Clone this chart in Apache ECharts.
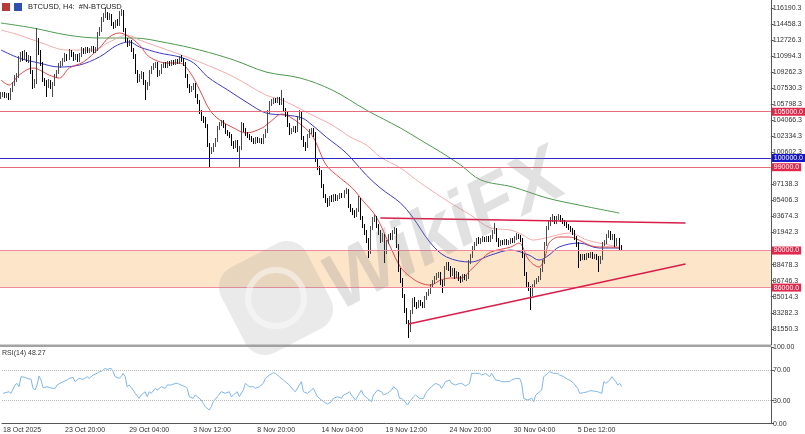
<!DOCTYPE html>
<html>
<head>
<meta charset="utf-8">
<script src="https://cdn.jsdelivr.net/npm/echarts@6/dist/echarts.min.js"></script>
<style>
html, body { margin: 0; padding: 0; background: #fff; }
#chart { width: 805px; height: 434px; }
</style>
</head>
<body>
<div id="chart"></div>
<script>
// H4 bars, first visible bar 18 Oct 2025 16:00
const barCount = 384
const startTime = Date.UTC(2025, 9, 18, 16)
const monthNames = ['Jan', 'Feb', 'Mar', 'Apr', 'May', 'Jun', 'Jul', 'Aug', 'Sep', 'Oct', 'Nov', 'Dec']
const categories = []
for (let i = 0; i < barCount; i++) {
  const d = new Date(startTime + i * 4 * 3600 * 1000)
  const hh = String(d.getUTCHours()).padStart(2, '0')
  categories.push(d.getUTCDate() + ' ' + monthNames[d.getUTCMonth()] + ' ' + hh + ':00')
}

const xTickBars = [0, 31, 63, 95, 127, 159, 191, 223, 255, 287]
const xTickLabels = ['18 Oct 2025', '23 Oct 20:00', '29 Oct 04:00', '3 Nov 12:00', '8 Nov 20:00',
  '14 Nov 04:00', '19 Nov 12:00', '24 Nov 20:00', '30 Nov 04:00', '5 Dec 12:00']

const priceTicks = [81550.3, 83282.3, 85014.3, 86746.3, 88478.3, 91942.3, 93674.3, 95406.3,
  97138.3, 100602.3, 102334.3, 104066.3, 105798.3, 107530.3, 109262.3, 110994.3, 112726.3,
  114458.3, 116190.3]
const rsiTicks = [0, 30, 70, 100]

// horizontal levels and the 86000-90000 zone
const levelPrices = [105000, 100000, 99000, 90000, 86000]
const zoneRange = [86000, 90000]
// trendlines [barIndex, price]
const trendUpper = [[189, 93510], [341, 92970]]
const trendLower = [[203, 82060], [341, 88540]]

// [open, close, low, high]
const candles = [
  [106690, 106790, 106360, 107120], [106790, 106900, 106580, 107120], [106900, 106690, 106470, 107120],
  [106690, 106790, 106470, 107010], [106790, 106470, 106250, 107010], [106470, 107330, 106250, 107550],
  [107330, 107980, 107120, 108200], [107980, 108630, 107770, 108950], [108630, 108850, 108200, 109170],
  [108850, 110570, 108630, 111010], [110570, 111110, 110360, 111440], [111110, 110790, 110470, 111550],
  [110790, 111220, 110570, 111650], [111220, 110570, 110360, 111440], [110570, 110790, 110250, 111110],
  [110790, 109280, 109060, 111010], [109280, 107770, 107440, 109490], [107770, 108200, 107550, 108520],
  [108200, 112520, 107980, 114030], [112520, 111440, 111110, 112950], [111440, 110140, 109930, 111650],
  [110140, 108410, 108200, 110360], [108410, 108090, 107770, 108630], [108090, 107770, 106580, 108410],
  [107770, 108200, 107550, 108520], [108200, 107770, 107440, 108410], [107770, 107980, 106580, 108200],
  [107980, 108850, 107770, 109060], [108850, 109280, 108630, 109490], [109280, 109930, 109060, 110250],
  [109930, 110140, 109710, 110470], [110140, 110570, 109930, 110790], [110570, 111010, 110360, 111330],
  [111010, 110790, 110470, 111220], [110790, 111440, 110570, 111760], [111440, 111220, 110900, 111650],
  [111220, 110790, 110470, 111440], [110790, 111010, 110570, 111220], [111010, 110570, 110360, 111220],
  [110570, 111110, 110360, 111330], [111110, 111650, 110900, 111980], [111650, 111440, 111220, 111870],
  [111440, 111760, 111220, 111980], [111760, 111550, 111330, 111980], [111550, 111650, 111330, 111870],
  [111650, 111870, 111440, 112090], [111870, 111550, 111330, 112090], [111550, 111760, 111330, 111980],
  [111760, 113380, 111550, 113600], [113380, 113810, 113170, 114140], [113810, 114890, 113600, 115220],
  [114890, 115330, 114680, 115650], [115330, 115540, 115110, 116300], [115540, 115110, 114890, 115760],
  [115110, 115330, 114890, 115650], [115330, 114460, 114250, 115540], [114460, 114250, 113920, 114680],
  [114250, 114680, 114030, 114890], [114680, 114460, 114250, 115000], [114460, 115540, 114250, 115870],
  [115540, 115760, 115330, 116080], [115760, 113810, 113600, 115970], [113810, 112730, 112520, 114030],
  [112730, 112300, 111980, 112950], [112300, 112520, 112090, 112730], [112520, 111650, 111440, 112730],
  [111650, 111010, 110680, 111870], [111010, 109280, 109060, 111220], [109280, 108410, 108090, 109490],
  [108410, 108850, 108200, 109060], [108850, 109060, 108520, 109390], [109060, 108200, 107870, 109280],
  [108200, 107550, 106250, 108410], [107550, 107980, 107330, 108200], [107980, 109280, 107770, 109490],
  [109280, 109710, 109060, 109930], [109710, 109930, 109490, 110250], [109930, 110140, 109710, 110360],
  [110140, 109060, 108740, 110360], [109060, 109280, 108850, 109490], [109280, 109930, 109060, 110140],
  [109930, 110140, 109710, 110360], [110140, 109930, 109710, 110360], [109930, 110250, 109710, 110470],
  [110250, 110140, 109930, 110470], [110140, 110360, 109930, 110570], [110360, 110250, 110030, 110570],
  [110250, 110470, 110030, 110680], [110470, 110360, 110140, 110680], [110360, 110790, 110140, 111010],
  [110790, 110570, 110360, 111110], [110570, 110140, 109930, 110790], [110140, 108850, 108630, 110360],
  [108850, 107770, 107550, 109060], [107770, 107330, 107010, 107980], [107330, 107550, 107120, 107770],
  [107550, 107870, 107330, 108090], [107870, 106690, 106470, 108090], [106690, 106040, 105820, 106900],
  [106040, 104960, 104740, 106250], [104960, 104310, 103990, 105170], [104310, 104090, 103770, 104530],
  [104090, 103450, 103230, 104420], [103450, 101390, 101180, 103660], [101390, 100640, 98910, 101610],
  [100640, 100850, 100420, 101180], [100850, 101390, 100640, 101610], [101390, 101930, 101180, 102150],
  [101930, 103230, 101720, 103450], [103230, 103660, 103010, 103880], [103660, 103880, 103450, 104090],
  [103880, 103450, 103230, 104090], [103450, 102800, 102580, 103660], [102800, 102580, 102370, 103010],
  [102580, 102370, 102150, 102800], [102370, 101500, 101290, 102580], [101500, 101290, 100960, 101830],
  [101290, 101720, 101070, 101930], [101720, 100850, 100640, 101930], [100850, 101070, 99020, 101290],
  [101070, 103550, 100850, 103880], [103550, 103010, 102800, 103770], [103010, 102580, 102370, 103230],
  [102580, 102370, 102150, 102800], [102370, 102150, 101930, 102580], [102150, 101930, 101720, 102370],
  [101930, 101720, 101500, 102150], [101720, 102040, 101500, 102260], [102040, 101830, 101610, 102260],
  [101830, 101930, 101610, 102150], [101930, 101720, 101500, 102150], [101720, 102370, 101500, 102580],
  [102370, 102910, 102150, 103120], [102910, 104960, 102690, 105170], [104960, 105820, 104740, 106150],
  [105820, 106040, 105610, 106360], [106040, 106250, 105820, 106470], [106250, 106150, 105930, 106470],
  [106150, 106360, 105930, 106580], [106360, 105930, 105710, 106580], [105930, 106250, 105710, 107330],
  [106250, 105170, 104960, 106470], [105170, 104740, 104420, 105390], [104740, 103550, 103340, 104960],
  [103550, 102800, 102470, 103770], [102800, 103010, 102580, 103230], [103010, 103230, 102800, 103450],
  [103230, 103010, 102690, 103450], [103010, 104310, 102800, 104530], [104310, 104740, 104090, 105170],
  [104740, 102150, 101930, 104960], [102150, 101500, 101180, 102370], [101500, 101290, 100750, 101720],
  [101290, 102370, 101070, 102580], [102370, 102800, 102150, 103120], [102800, 103010, 102580, 103230],
  [103010, 102580, 102260, 103230], [102580, 99770, 99560, 102800], [99770, 98910, 98690, 99990],
  [98910, 98480, 98150, 99130], [98480, 96970, 96750, 98690], [96970, 95890, 95670, 97180],
  [95890, 95450, 95130, 96100], [95450, 95020, 94700, 95670], [95020, 95670, 94810, 95890],
  [95670, 95450, 95240, 95990], [95450, 95890, 95240, 96100], [95890, 95560, 95350, 96100],
  [95560, 95780, 95350, 95990], [95780, 95990, 95560, 96210], [95990, 95890, 95670, 96210],
  [95890, 96320, 95670, 96530], [96320, 96430, 96100, 96750], [96430, 94810, 94590, 96640],
  [94810, 94370, 94160, 95020], [94370, 94160, 93830, 94590], [94160, 93830, 93510, 94370],
  [93830, 94370, 93620, 94590], [94370, 95450, 94160, 95890], [95450, 93510, 93290, 95670],
  [93510, 92650, 92430, 93730], [92650, 92000, 91670, 92860], [92000, 91130, 90810, 92210],
  [91130, 89840, 89190, 91350], [89840, 92430, 89620, 92650], [92430, 93290, 92210, 93620],
  [93290, 93510, 93080, 93830], [93510, 92650, 92430, 93730], [92650, 92000, 91670, 92860],
  [92000, 91130, 90810, 92210], [91130, 91570, 90920, 91890], [91570, 89840, 88650, 91780],
  [89840, 90920, 89620, 91130], [90920, 91570, 90700, 91780], [91570, 91350, 91130, 91890],
  [91350, 92000, 91130, 92210], [92000, 92210, 91780, 92540], [92210, 90490, 90270, 92430],
  [90490, 87890, 87680, 90700], [87890, 86810, 86490, 88110], [86810, 85090, 84870, 87030],
  [85090, 83570, 83250, 85300], [83570, 82280, 82060, 83790], [82280, 81410, 80550, 82490],
  [81410, 83360, 81200, 83570], [83360, 84650, 83140, 84870], [84650, 84220, 83900, 84980],
  [84220, 84010, 83680, 84440], [84010, 84440, 83790, 84650], [84440, 84220, 84010, 84650],
  [84220, 84010, 83790, 84440], [84010, 84870, 83790, 85090], [84870, 85300, 84650, 85520],
  [85300, 85520, 85090, 85840], [85520, 86170, 85300, 86380], [86170, 86600, 85950, 86810],
  [86600, 87030, 86380, 87250], [87030, 87250, 86810, 87570], [87250, 87460, 87030, 87680],
  [87460, 86600, 86270, 87680], [86600, 86380, 85410, 86810], [86380, 88110, 86170, 88330],
  [88110, 88540, 87890, 88760], [88540, 88110, 87790, 88760], [88110, 87460, 87140, 88330],
  [87460, 87890, 87250, 88110], [87890, 87250, 86920, 88110], [87250, 87460, 87030, 87790],
  [87460, 87030, 86710, 87680], [87030, 86810, 86490, 87250], [86810, 87250, 86600, 87460],
  [87250, 87030, 86810, 87460], [87030, 87140, 86710, 87350], [87140, 88760, 86920, 88970],
  [88760, 89410, 88540, 89620], [89410, 90270, 89190, 90490], [90270, 90700, 90050, 90920],
  [90700, 91130, 90490, 91350], [91130, 90920, 90700, 91460], [90920, 91130, 90700, 91350],
  [91130, 91240, 90920, 91570], [91240, 91130, 90920, 91460], [91130, 91350, 90920, 91570],
  [91350, 91130, 90920, 91570], [91130, 91460, 90920, 91670], [91460, 92000, 91240, 92210],
  [92000, 92210, 91780, 92970], [92210, 91130, 90920, 92430], [91130, 90700, 90380, 91350],
  [90700, 90920, 90490, 91130], [90920, 90810, 90590, 91130], [90810, 91030, 90590, 91240],
  [91030, 90810, 90590, 91240], [90810, 90920, 90590, 91130], [90920, 91130, 90700, 91350],
  [91130, 91030, 90810, 91350], [91030, 91350, 90810, 91570], [91350, 91570, 91130, 91890],
  [91570, 91460, 91240, 91780], [91460, 91130, 90920, 91670], [91130, 89410, 89190, 91350],
  [89410, 87460, 87250, 89620], [87460, 86380, 86060, 87680], [86380, 85950, 85630, 86600],
  [85950, 85300, 83570, 86170], [85300, 86170, 85090, 86380], [86170, 86600, 85950, 86810],
  [86600, 86810, 86380, 87030], [86810, 87030, 86600, 87250], [87030, 87890, 86810, 88110],
  [87890, 88760, 87680, 88970], [88760, 90700, 88540, 90920], [90700, 92430, 90490, 92650],
  [92430, 92860, 92210, 93190], [92860, 93290, 92650, 93620], [93290, 93510, 93080, 93940],
  [93510, 93080, 92860, 93730], [93080, 93510, 92860, 93730], [93510, 93620, 93290, 93940],
  [93620, 93290, 93080, 93830], [93290, 93080, 92860, 93510], [93080, 92860, 92650, 93290],
  [92860, 92650, 92430, 93080], [92650, 92430, 92210, 92860], [92430, 92210, 92000, 92650],
  [92210, 92000, 91670, 92430], [92000, 91350, 91130, 92210], [91350, 90700, 90380, 91570],
  [90700, 89410, 88110, 90920], [89410, 89190, 88870, 89620], [89190, 89410, 88970, 89620],
  [89410, 89190, 88970, 89620], [89190, 89510, 88970, 89730], [89510, 89410, 89190, 89730],
  [89410, 89620, 89190, 89840], [89620, 89300, 89080, 89840], [89300, 89410, 89080, 89620],
  [89410, 89190, 88970, 89620], [89190, 88760, 87680, 89410], [88760, 89190, 88540, 89410],
  [89190, 90700, 88970, 90920], [90700, 90920, 90490, 91130], [90920, 91570, 90700, 91780],
  [91570, 91890, 91350, 92210], [91890, 91350, 91130, 92110], [91350, 91570, 91130, 91780],
  [91570, 90700, 90380, 91780], [90700, 91130, 90490, 91350], [91130, 90380, 90050, 91350],
  [90380, 90270, 90050, 90590]
]

// moving averages, [barIndex, price]
const maGreen = [[0, 114570], [16, 114030], [33, 113270], [49, 112950], [66, 112950], [83, 112410],
  [99, 111650], [116, 110570], [132, 109280], [149, 108630], [165, 107330], [182, 105170],
  [199, 103230], [209, 101930], [219, 100640], [229, 99230], [239, 97620], [255, 96860],
  [272, 95670], [288, 94910], [308, 94050]]
const maPink = [[0, 113810], [9, 113270], [19, 112520], [33, 111650], [46, 111650], [54, 112520],
  [63, 113270], [69, 112730], [83, 111650], [99, 110360], [116, 108740], [132, 106790],
  [140, 106250], [157, 104420], [165, 103550], [174, 102260], [182, 101390], [189, 100100],
  [199, 98910], [209, 97290], [224, 95130], [234, 93830], [244, 92430], [254, 92210],
  [260, 91670], [265, 91130], [273, 91460], [283, 91890], [292, 91130], [298, 90810], [308, 90380]]
const maRed = [[0, 108410], [4, 107870], [9, 108950], [16, 109710], [24, 108950], [29, 108630],
  [34, 109710], [41, 110360], [49, 111870], [54, 113060], [59, 113490], [64, 113060],
  [69, 112190], [74, 110900], [83, 110250], [89, 110250], [94, 109280], [99, 107330],
  [104, 105170], [109, 104090], [116, 103230], [122, 102690], [130, 103230], [134, 103880],
  [140, 104740], [144, 104420], [149, 103660], [154, 102690], [157, 101610], [162, 99230],
  [169, 97830], [175, 96750], [180, 95450], [187, 93620], [194, 90380], [199, 88220],
  [204, 87140], [209, 86490], [214, 86270], [219, 86810], [224, 87030], [229, 87030],
  [234, 87890], [239, 88970], [244, 89840], [254, 90380], [258, 90810], [263, 88970],
  [268, 88220], [271, 89300], [273, 90810], [278, 91460], [283, 91460], [288, 91130],
  [293, 90590], [298, 90380], [303, 90380], [308, 90270]]
const maBlue = [[0, 111650], [9, 110790], [19, 110250], [29, 109820], [39, 110030], [49, 110900],
  [58, 112190], [64, 112520], [69, 111980], [79, 111330], [89, 110900], [96, 110250],
  [103, 108740], [113, 107330], [123, 105930], [132, 104850], [142, 104630], [150, 104310],
  [155, 103550], [162, 102260], [172, 100530], [182, 98150], [189, 96750], [199, 95130],
  [205, 93620], [214, 90810], [222, 89300], [234, 88760], [244, 89510], [254, 90050],
  [263, 89510], [268, 88970], [273, 89510], [278, 90380], [288, 90810], [298, 90270], [308, 90270]]

// RSI(14), [barIndex, value]
const rsi = [[0, 39.6], [3, 41.7], [4, 39.6], [6, 50.4], [7, 52.6], [8, 48.2], [9, 61.3], [11, 60.4],
  [12, 59.1], [14, 57.8], [15, 46], [16, 43.9], [17, 50.4], [18, 62.1], [19, 56.9], [20, 46.9],
  [22, 48.2], [23, 47.4], [25, 46], [26, 46], [27, 50.4], [29, 53.5], [30, 54.8], [32, 56.9],
  [33, 59.1], [35, 60.4], [36, 54.8], [37, 56.9], [38, 59.1], [40, 57.8], [42, 61.3], [43, 59.1],
  [45, 63.4], [47, 65.6], [48, 67.8], [49, 67.8], [51, 72.1], [52, 70.8], [54, 72.1], [55, 67.8],
  [56, 61.3], [58, 59.1], [59, 61.3], [60, 65.6], [61, 61.3], [62, 48.2], [63, 50.4], [65, 43.9],
  [66, 39.6], [68, 33], [69, 37.4], [71, 41.7], [72, 35.2], [73, 41.7], [74, 39.6], [76, 46],
  [77, 43.9], [79, 48.2], [81, 46], [82, 50.4], [84, 50.4], [86, 52.6], [87, 52.6], [89, 50.4],
  [91, 48.2], [92, 46], [93, 35.2], [95, 33], [96, 37.4], [97, 35.2], [99, 30.9], [100, 26.5],
  [101, 22.2], [103, 17.8], [104, 22.2], [105, 28.7], [107, 35.2], [109, 41.7], [111, 39.6],
  [113, 41.7], [114, 35.2], [115, 37.4], [117, 41.7], [118, 35.2], [120, 43.9], [121, 52.6],
  [123, 48.2], [125, 48.2], [126, 46], [128, 48.2], [130, 52.6], [131, 59.1], [133, 63.4],
  [135, 66.5], [136, 65.6], [138, 61.3], [140, 56.9], [141, 54.8], [143, 50.4], [145, 43.9],
  [146, 41.7], [148, 50.4], [149, 54.8], [150, 41.7], [152, 39.6], [154, 43.9], [155, 46],
  [157, 35.2], [159, 30.9], [160, 28.7], [162, 25.7], [164, 28.7], [165, 33], [167, 35.2],
  [169, 33], [170, 37.4], [172, 39.6], [173, 41.7], [174, 37.4], [176, 30.9], [178, 39.6],
  [179, 43.9], [180, 37.4], [182, 33], [184, 28.7], [185, 37.4], [187, 43.9], [189, 41.7],
  [190, 37.4], [192, 39.6], [194, 43.9], [195, 48.2], [197, 43.9], [198, 33], [199, 33],
  [200, 30.9], [202, 24.4], [203, 28.7], [205, 35.2], [206, 37.4], [208, 33], [210, 33],
  [211, 39.6], [213, 46], [214, 48.2], [216, 52.6], [218, 50.4], [219, 46], [221, 54.8],
  [223, 56.9], [224, 52.6], [226, 50.4], [228, 52.6], [229, 52.6], [231, 49.1], [233, 52.6],
  [234, 65.6], [236, 65.6], [238, 65.6], [239, 63.4], [241, 65.6], [243, 61.3], [244, 65.6],
  [246, 56.9], [248, 56.1], [249, 54.8], [251, 54.8], [253, 54.8], [254, 56.9], [256, 59.1],
  [258, 59.1], [259, 52.6], [260, 33], [262, 30.9], [264, 33], [265, 28.7], [266, 37.4],
  [268, 41.7], [269, 43.9], [270, 61.3], [272, 65.6], [273, 67.8], [275, 65.6], [277, 65.6],
  [278, 63.4], [280, 61.3], [282, 57.8], [283, 56.9], [285, 52.6], [287, 46], [288, 39.6],
  [290, 40.5], [292, 41.7], [293, 43], [295, 42.6], [297, 41.7], [298, 40.5], [299, 39.6],
  [300, 54.8], [301, 52.6], [303, 56.9], [304, 61.3], [306, 54.8], [307, 50.4], [308, 52.6],
  [309, 48.27]]

const levelLineColors = ['#e46a7e', '#2b2bc4', '#e46a7e', '#f08a9c', '#f08a9c']
const levelBoxColors = ['#e0284a', '#1414c8', '#e0284a', '#e0284a', '#e0284a']

const showTick = (idx) => xTickBars.indexOf(idx) >= 0
const fontFamily = 'Liberation Sans, Arial, sans-serif'

const chart = echarts.init(document.getElementById('chart'))

const maLine = (name, data, color, z) => ({
  name, type: 'line', data, xAxisIndex: 0, yAxisIndex: 0,
  symbol: 'none', smooth: 0.35, z,
  lineStyle: { color, width: 1 },
})

const trend = (pts) => [{ coord: pts[0] }, { coord: pts[1] }]

chart.setOption({
  animation: false,
  textStyle: { fontFamily },
  grid: [
    { left: 0, right: 34, top: 0, height: 345 },
    { left: 0, right: 34, top: 347, height: 76.7 },
  ],
  xAxis: [
    {
      type: 'category', gridIndex: 0, data: categories, boundaryGap: true,
      axisLine: { show: false }, axisTick: { show: false }, axisLabel: { show: false },
    },
    {
      type: 'category', gridIndex: 1, data: categories, boundaryGap: true,
      axisLine: { lineStyle: { color: '#555', width: 1 } },
      axisTick: { interval: showTick, alignWithLabel: true, length: 3, lineStyle: { color: '#555' } },
      axisLabel: {
        interval: showTick,
        formatter: (v, idx) => xTickLabels[xTickBars.indexOf(idx)],
        align: 'left', fontSize: 7, color: '#333', margin: 3,
      },
    },
  ],
  yAxis: [
    {
      type: 'value', gridIndex: 0, position: 'right', min: 79800, max: 117054, scale: true,
      axisLine: { show: true, lineStyle: { color: '#555' } },
      axisTick: { show: true, length: 3, customValues: priceTicks, lineStyle: { color: '#555' } },
      axisLabel: {
        customValues: priceTicks, formatter: (v) => v.toFixed(1),
        fontSize: 7, color: '#333', margin: 2,
      },
      splitLine: { show: false },
    },
    {
      type: 'value', gridIndex: 1, position: 'right', min: 0, max: 100,
      axisLine: { show: true, lineStyle: { color: '#555' } },
      axisTick: { show: true, length: 3, customValues: rsiTicks, lineStyle: { color: '#555' } },
      axisLabel: {
        customValues: rsiTicks, formatter: (v) => v.toFixed(2),
        fontSize: 7, color: '#333', margin: 2,
      },
      splitLine: { show: false },
    },
  ],
  series: [
    {
      name: 'zone', type: 'line', data: [], xAxisIndex: 0, yAxisIndex: 0, z: 1,
      markArea: {
        silent: true,
        itemStyle: { color: '#fde5c9' },
        data: [[{ yAxis: zoneRange[1] }, { yAxis: zoneRange[0] }]],
      },
    },
    maLine('ma200', maGreen, '#4c9a4c', 2),
    maLine('ma100', maPink, '#f2acac', 2),
    maLine('ma50', maBlue, '#3a3ac4', 2),
    maLine('ma20', maRed, '#e24a4a', 2),
    {
      name: 'BTCUSD', type: 'candlestick', data: candles, xAxisIndex: 0, yAxisIndex: 0, z: 3,
      barWidth: 1.3,
      itemStyle: {
        color: '#9c9c9c', color0: '#000', borderColor: '#4a4a4a', borderColor0: '#000', borderWidth: 1,
      },
      markLine: {
        silent: true, symbol: 'none',
        label: {
          show: true, position: 'end', distance: 1, color: '#fff', fontSize: 7,
          padding: [1, 2, 0, 2],
        },
        data: levelPrices.map((p, k) => ({
          yAxis: p,
          lineStyle: { color: levelLineColors[k], width: 1, type: 'solid' },
          label: { formatter: p.toFixed(1), backgroundColor: levelBoxColors[k] },
        })),
      },
    },
    {
      name: 'trend', type: 'line', data: [], xAxisIndex: 0, yAxisIndex: 0, z: 4,
      markLine: {
        silent: true, symbol: 'none', label: { show: false },
        lineStyle: { color: '#d81e48', width: 1.5, type: 'solid' },
        data: [trend(trendUpper), trend(trendLower)],
      },
    },
    {
      name: 'RSI(14)', type: 'line', data: rsi, xAxisIndex: 1, yAxisIndex: 1,
      symbol: 'none', lineStyle: { color: '#7fb6e6', width: 1 },
      markLine: {
        silent: true, symbol: 'none', label: { show: false },
        lineStyle: { color: '#b8b8b8', width: 1, type: 'dotted' },
        data: [{ yAxis: 70 }, { yAxis: 30 }],
      },
    },
  ],
  graphic: [
    { type: 'rect', shape: { x: 0, y: 344.5, width: 771, height: 2.5 }, style: { fill: '#a3a3a3' }, z: 10 },
    { type: 'rect', shape: { x: 2, y: 3, width: 8, height: 8 }, style: { fill: '#b83a3a' }, z: 10 },
    { type: 'rect', shape: { x: 14, y: 3, width: 8, height: 8 }, style: { fill: '#3050b0' }, z: 10 },
    {
      type: 'text', x: 28, y: 7, z: 10,
      style: { text: 'BTCUSD, H4:  #N-BTCUSD', fontSize: 7.5, fill: '#222', textVerticalAlign: 'middle', fontFamily },
    },
    {
      type: 'text', x: 2, y: 353, z: 10,
      style: { text: 'RSI(14) 48.27', fontSize: 7, fill: '#333', textVerticalAlign: 'middle', fontFamily },
    },
    {
      type: 'rect', x: 276, y: 298, rotation: 0.48, z: 20,
      shape: { x: -48, y: -48, width: 96, height: 96, r: 22 },
      style: { fill: 'rgba(150,150,150,0.2)' },
    },
    {
      type: 'circle', x: 276, y: 298, z: 21,
      shape: { cx: 0, cy: 0, r: 28 },
      style: { fill: 'none', stroke: 'rgba(255,255,255,0.45)', lineWidth: 6 },
    },
    {
      type: 'text', x: 445, y: 232, rotation: 0.48, z: 20,
      style: {
        text: 'WikiFX', fontSize: 78, fontWeight: 'bold', fontStyle: 'italic', fontFamily,
        fill: 'rgba(140,140,140,0.26)', textAlign: 'center', textVerticalAlign: 'middle',
      },
    },
  ],
})
</script>
</body>
</html>
